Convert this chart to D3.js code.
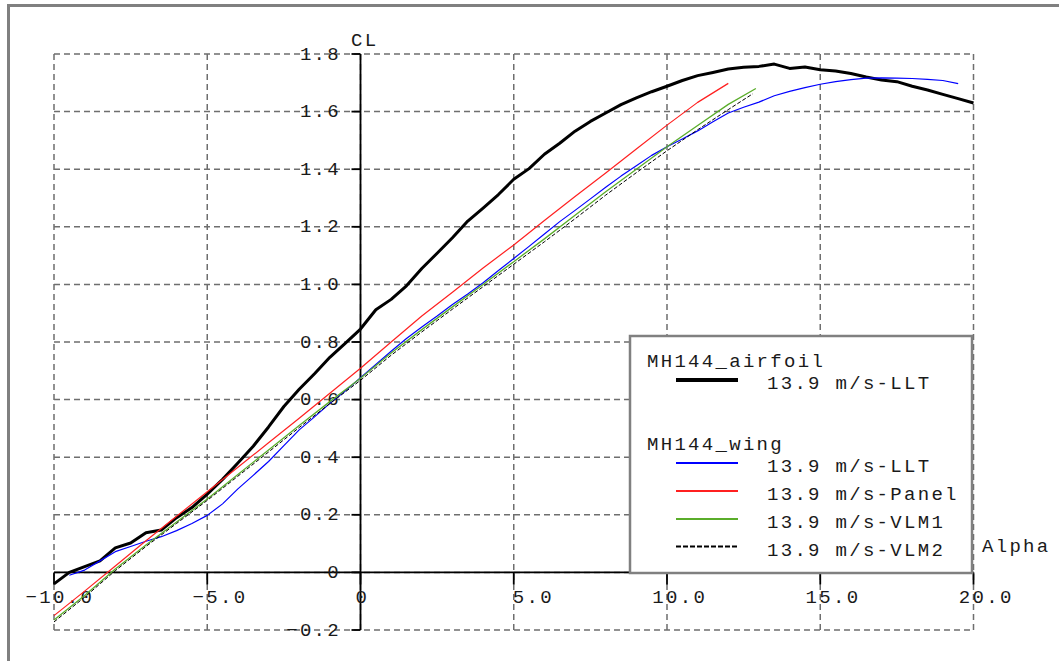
<!DOCTYPE html>
<html><head><meta charset="utf-8">
<script src="https://cdn.jsdelivr.net/npm/d3@7"></script>
<style>
html,body{margin:0;padding:0;background:#fff;}
text{font-family:"Liberation Mono","DejaVu Sans Mono",monospace;font-size:19px;fill:#1a1a1a;letter-spacing:2.3px;}
</style></head>
<body>
<svg id="chart" width="1059" height="661"></svg>
<script>
// ---- data ----
const xTickValues = [-10, -5, 0, 5, 10, 15, 20];
const xTickLabels = ["\u221210.0", "\u22125.0", "0", "5.0", "10.0", "15.0", "20.0"];
const yTickValues = [-0.2, 0, 0.2, 0.4, 0.6, 0.8, 1.0, 1.2, 1.4, 1.6, 1.8];
const yTickLabels = ["\u22120.2", "0", "0.2", "0.4", "0.6", "0.8", "1.0", "1.2", "1.4", "1.6", "1.8"];

const airfoilAlpha = [-10,-9.5,-9,-8.5,-8,-7.5,-7,-6.5,-6,-5.5,-5,-4.5,-4,-3.5,-3,-2.5,-2,-1.5,-1,-0.5,0,0.5,1,1.5,2,2.5,3,3.5,4,4.5,5,5.5,6,6.5,7,7.5,8,8.5,9,9.5,10,10.5,11,11.5,12,12.5,13,13.5,14,14.5,15,15.5,16,16.5,17,17.5,18,18.5,19,19.5,20];
const airfoilCL = [-0.04,0.00,0.02,0.04,0.085,0.102,0.138,0.147,0.19,0.225,0.272,0.323,0.38,0.438,0.505,0.576,0.636,0.69,0.747,0.795,0.845,0.912,0.948,0.995,1.055,1.108,1.162,1.22,1.265,1.312,1.365,1.402,1.452,1.49,1.532,1.566,1.595,1.624,1.648,1.669,1.688,1.708,1.725,1.736,1.748,1.754,1.757,1.765,1.75,1.755,1.745,1.741,1.732,1.72,1.71,1.704,1.688,1.675,1.66,1.645,1.63];

const lltAlpha = [-9.5,-9,-8.5,-8,-7.5,-7,-6.5,-6,-5.5,-5,-4.5,-4,-3.5,-3,-2.5,-2,-1.5,-1,-0.5,0,0.5,1,1.5,2,2.5,3,3.5,4,4.5,5,5.5,6,6.5,7,7.5,8,8.5,9,9.5,10,10.5,11,11.5,12,12.5,13,13.5,14,14.5,15,15.5,16,16.5,17,17.5,18,18.5,19,19.5];
const lltCL = [-0.01,0.008,0.04,0.072,0.09,0.108,0.124,0.145,0.17,0.198,0.238,0.29,0.337,0.385,0.44,0.495,0.54,0.587,0.63,0.676,0.722,0.768,0.812,0.852,0.89,0.93,0.967,1.006,1.048,1.09,1.132,1.175,1.218,1.257,1.297,1.337,1.376,1.412,1.448,1.478,1.505,1.533,1.565,1.595,1.615,1.633,1.655,1.67,1.683,1.695,1.704,1.711,1.716,1.717,1.716,1.715,1.712,1.708,1.697];

const panelAlpha = [-10,-9,-8,-7,-6,-5,-4,-3,-2,-1,0,1,2,3,4,5,6,7,8,9,10,11,12];
const panelCL = [-0.15,-0.065,0.022,0.11,0.195,0.28,0.365,0.45,0.535,0.622,0.709,0.80,0.89,0.973,1.057,1.137,1.222,1.305,1.387,1.47,1.553,1.632,1.698];

const vlm1Alpha = [-10,-9,-8,-7,-6,-5,-4,-3,-2,-1,0,1,2,3,4,5,6,7,8,9,10,11,12,12.9];
const vlm1CL = [-0.165,-0.08,0.012,0.095,0.175,0.255,0.34,0.425,0.51,0.593,0.674,0.762,0.843,0.922,1.0,1.079,1.158,1.24,1.322,1.40,1.478,1.552,1.625,1.68];

const vlm2Alpha = [-10,-9,-8,-7,-6,-5,-4,-3,-2,-1,0,1,2,3,4,5,6,7,8,9,10,11,12,12.8];
const vlm2CL = [-0.172,-0.086,0.006,0.09,0.17,0.25,0.334,0.418,0.503,0.586,0.667,0.754,0.835,0.914,0.992,1.07,1.148,1.228,1.31,1.388,1.464,1.537,1.607,1.662];

const legendGroups = ["MH144_airfoil", "MH144_wing"];
const legendLabels = ["13.9 m/s-LLT", "13.9 m/s-LLT", "13.9 m/s-Panel", "13.9 m/s-VLM1", "13.9 m/s-VLM2"];

// ---- drawing ----
const svg = d3.select("#chart");
const x = d3.scaleLinear().domain([-10, 20]).range([54, 973.5]);
const y = d3.scaleLinear().domain([-0.2, 1.8]).range([630, 54]);
const ADV = 13.7;

svg.append("rect").attr("width", 1059).attr("height", 661).attr("fill", "#fff");
// outer frame
svg.append("rect").attr("x", 8.5).attr("y", 5.5).attr("width", 1200).attr("height", 800)
  .attr("fill", "none").attr("stroke", "#808080").attr("stroke-width", 3);

const grid = svg.append("g").attr("stroke", "#6e6e6e").attr("stroke-width", 1.5)
  .attr("stroke-dasharray", "6,4").attr("fill", "none");
grid.selectAll("line.v").data(xTickValues).join("line")
  .attr("x1", d => x(d)).attr("x2", d => x(d)).attr("y1", y(1.8)).attr("y2", y(-0.2));
grid.selectAll("line.h").data(yTickValues).join("line").attr("class", "h")
  .attr("y1", d => y(d)).attr("y2", d => y(d)).attr("x1", x(-10)).attr("x2", x(20));

// axes
const ax = svg.append("g").attr("stroke", "#000").attr("stroke-width", 1.8);
ax.append("line").attr("x1", x(0)).attr("x2", x(0)).attr("y1", y(1.8)).attr("y2", y(-0.2));
ax.append("line").attr("x1", x(-10)).attr("x2", x(20)).attr("y1", y(0)).attr("y2", y(0));
ax.selectAll("line.yt").data(yTickValues).join("line").attr("class", "yt")
  .attr("x1", x(0) - 9).attr("x2", x(0)).attr("y1", d => y(d)).attr("y2", d => y(d));
ax.selectAll("line.xt").data(xTickValues).join("line").attr("class", "xt")
  .attr("x1", d => x(d)).attr("x2", d => x(d)).attr("y1", y(0)).attr("y2", y(0) + 12);

// y tick labels
svg.selectAll("text.yl").data(yTickValues).join("text").attr("class", "yl")
  .attr("x", x(0) - 19.5).attr("y", d => y(d) + 5.5).attr("text-anchor", "end")
  .text((d, i) => yTickLabels[i]);
// x tick labels
svg.selectAll("text.xl").data(xTickValues).join("text").attr("class", "xl")
  .attr("x", (d, i) => {
    const s = xTickLabels[i], k = s.indexOf(".");
    return k < 0 ? x(d) - 5 : x(d) - ADV * (k - 1) - 1;
  })
  .attr("y", y(0) + 31)
  .text((d, i) => xTickLabels[i]);

svg.append("text").attr("x", 351).attr("y", 46).text("CL");
svg.append("text").attr("x", 982).attr("y", 552).text("Alpha");

// curves
const line = d3.line().x(d => x(d[0])).y(d => y(d[1]));
const zip = (a, b) => a.map((v, i) => [v, b[i]]);
const series = [
  {a: airfoilAlpha, c: airfoilCL, color: "#000", w: 3, dash: null},
  {a: lltAlpha, c: lltCL, color: "#0000ff", w: 1.2, dash: null},
  {a: panelAlpha, c: panelCL, color: "#ff2020", w: 1.2, dash: null},
  {a: vlm1Alpha, c: vlm1CL, color: "#5aad2a", w: 1.3, dash: null},
  {a: vlm2Alpha, c: vlm2CL, color: "#000", w: 1, dash: "4,2"}
];
svg.append("g").selectAll("path").data(series).join("path")
  .attr("d", s => line(zip(s.a, s.c)))
  .attr("fill", "none").attr("stroke", s => s.color).attr("stroke-width", s => s.w)
  .attr("stroke-dasharray", s => s.dash).attr("stroke-linejoin", "round");

// legend
const lg = svg.append("g");
lg.append("rect").attr("x", 630).attr("y", 336).attr("width", 342).attr("height", 237)
  .attr("fill", "#fff").attr("stroke", "#808080").attr("stroke-width", 2.5);
lg.append("text").attr("x", 647).attr("y", 367).text(legendGroups[0]);
lg.append("text").attr("x", 647).attr("y", 450).text(legendGroups[1]);
const rowY = [389, 472, 500, 528, 555.5];
lg.selectAll("line.ll").data(series).join("line").attr("class", "ll")
  .attr("x1", 676).attr("x2", 738).attr("y1", (s, i) => rowY[i] - 9).attr("y2", (s, i) => rowY[i] - 9)
  .attr("stroke", s => s.color).attr("stroke-width", (s, i) => i === 0 ? 4 : 2)
  .attr("stroke-dasharray", s => s.dash ? "5,2" : null);
lg.selectAll("text.lt").data(legendLabels).join("text").attr("class", "lt")
  .attr("x", 767).attr("y", (d, i) => rowY[i]).text(d => d);
</script>
</body></html>
